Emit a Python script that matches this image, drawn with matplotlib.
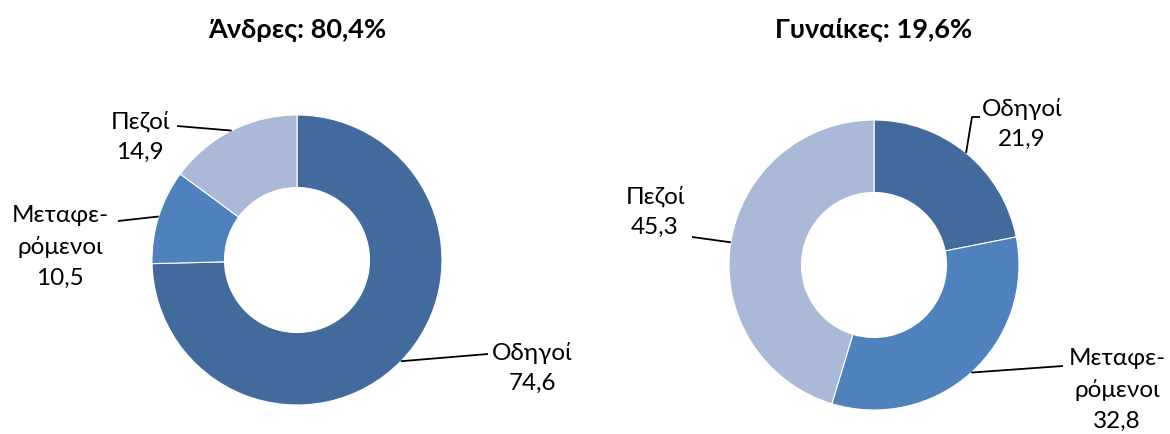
import matplotlib
matplotlib.use("Agg")
import matplotlib.pyplot as plt
import numpy as np

plt.rcParams["font.family"] = ["Lato", "DejaVu Sans"]

categories = ["Οδηγοί", "Μεταφερόμενοι", "Πεζοί"]
label_texts = ["Οδηγοί", "Μεταφε-\nρόμενοι", "Πεζοί"]
men_values = [74.6, 10.5, 14.9]
women_values = [21.9, 32.8, 45.3]
titles = ["Άνδρες: 80,4%", "Γυναίκες: 19,6%"]
colors = ["#426A9C", "#4F81BD", "#AAB9D7"]

W, H = 1170, 434
fig = plt.figure(figsize=(W / 100, H / 100), dpi=100)
ax = fig.add_axes([0, 0, 1, 1])
ax.set_xlim(0, W)
ax.set_ylim(0, H)
ax.axis("off")

R = 145
# layout in pixels (y measured from top)
layouts = [
    {
        "center": (297, 260),
        "text": [(532, 368), (60, 247), (140, 137)],
        "elbow": [[(488, 354)], [(118, 221)], [(177, 126)]],
        "angle": [None, None, None],
    },
    {
        "center": (874, 265),
        "text": [(1022, 124), (1117, 390), (655, 212)],
        "elbow": [[(972, 117), (980, 117)], [(1063, 366)], [(692, 237)]],
        "angle": [None, None, 171],
    },
]

for values, title, lay in zip([men_values, women_values], titles, layouts):
    cx, cy = lay["center"]
    cyu = H - cy
    wedges, _ = ax.pie(values, colors=colors, startangle=90, counterclock=False,
                       center=(cx, cyu), radius=R,
                       wedgeprops=dict(width=R * 0.5, edgecolor="white", linewidth=0.8))
    ax.text(cx, H - 30, title, ha="center", va="center", fontsize=19.5,
            fontweight="bold")
    for i, w in enumerate(wedges):
        ang = lay["angle"][i]
        if ang is None:
            ang = (w.theta1 + w.theta2) / 2
        ax0 = cx + R * np.cos(np.radians(ang))
        ay0 = cyu + R * np.sin(np.radians(ang))
        xs = [ax0] + [p[0] for p in lay["elbow"][i]]
        ys = [ay0] + [H - p[1] for p in lay["elbow"][i]]
        ax.plot(xs, ys, color="black", linewidth=1.3, solid_capstyle="butt")
        tx, ty = lay["text"][i]
        val = f"{values[i]:.1f}".replace(".", ",")
        ax.text(tx, H - ty, label_texts[i] + "\n" + val, ha="center",
                va="center", fontsize=17.5, linespacing=1.55)

ax.set_xlim(0, W)
ax.set_ylim(0, H)
ax.set_aspect("auto")
fig.savefig("out.png", dpi=100)
